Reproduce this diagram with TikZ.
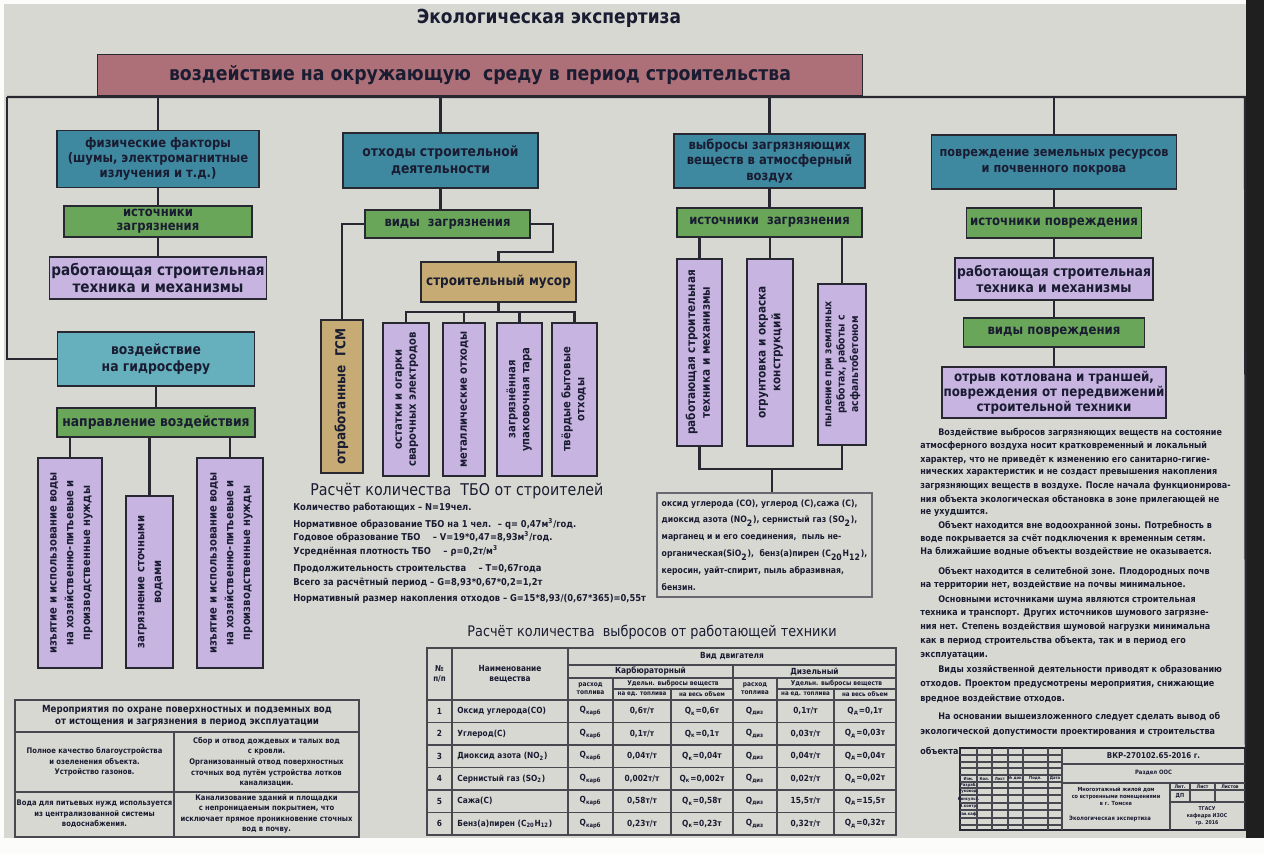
\documentclass[tikz,border=0pt]{standalone}
\usepackage{fontspec}
\setmainfont{DejaVu Sans}[FakeStretch=0.88]
\usepackage{xcolor}
\usepackage{tikz}
\definecolor{sheet}{RGB}{216,216,210}
\definecolor{tealbox}{RGB}{62,136,160}
\definecolor{hydrobox}{RGB}{102,176,190}
\definecolor{greenbox}{RGB}{106,166,90}
\definecolor{lilac}{RGB}{200,180,224}
\definecolor{tanbox}{RGB}{198,172,116}
\definecolor{rosebox}{RGB}{174,112,120}
\definecolor{ink}{RGB}{26,28,50}
\definecolor{wire}{RGB}{40,40,50}
\newcommand{\fsz}[2]{\fontsize{#1}{#2}\selectfont}
\newcommand{\vtext}[1]{\rotatebox{90}{\begin{tabular}{@{}c@{}}#1\end{tabular}}}

\begin{document}
\begin{tikzpicture}[x=0.02cm, y=-0.02cm,
    sz/.style 2 args = {minimum width=#1*0.02cm, minimum height=#2*0.02cm},
    fs/.style 2 args = {font=\bfseries\fsz{#1}{#2}},
    bx/.style = {draw=wire, line width=1pt, text=ink, align=center, inner sep=1pt},
    tealbx/.style = {bx, fill=tealbox},
    grnbx/.style = {bx, fill=greenbox},
    lilbx/.style = {bx, fill=lilac},
    tanbx/.style = {bx, fill=tanbox},
    link/.style = {draw=wire, line width=1.3pt},
    tabline/.style = {draw=wire!85, line width=0.6pt},
    txt/.style = {text=ink, inner sep=0}]

  \useasboundingbox (0,0) rectangle (1264,854);
  \fill[white!92!sheet] (0,0) rectangle (1264,854);
  \fill[sheet] (4,4) rectangle (1246,838);
  \fill[black!88] (1246,0) rectangle (1264,838);

  \node[txt, fs={11}{12}] (title) at (549,18) {Экологическая экспертиза};
  \node[bx, fill=rosebox, sz={765}{41}, fs={11.2}{12}] (top) at (480,75) {воздействие на окружающую \ среду в период строительства};

  \node[tealbx, sz={202}{57}, fs={7.5}{8.6}] (phys) at (158,159) {физические факторы\\(шумы, электромагнитные\\излучения и т.д.)};
  \node[grnbx, sz={188}{31}, fs={7.5}{8}] (src1) at (158,221.5) {источники\\загрязнения};
  \node[lilbx, sz={212}{42}, fs={8.8}{9.5}] (tech1) at (158,278) {работающая строительная\\техника и механизмы};
  \node[bx, fill=hydrobox, sz={197}{54}, fs={8}{9.5}] (hydro) at (156,359) {воздействие\\на гидросферу};
  \node[grnbx, sz={198}{29}, fs={8}{9}] (dir) at (156,422.5) {направление воздействия};
  \node[lilbx, sz={64}{210}, fs={6.5}{9.5}] (wA) at (70,563) {\vtext{изъятие и использование воды\\на хозяйственно-питьевые и\\производственные нужды}};
  \node[lilbx, sz={47}{172}, fs={6.5}{9.5}] (wB) at (149.5,582) {\vtext{загрязнение сточными\\водами}};
  \node[lilbx, sz={66}{210}, fs={6.5}{9.5}] (wC) at (230,563) {\vtext{изъятие и использование воды\\на хозяйственно-питьевые и\\производственные нужды}};

  \node[tealbx, sz={195}{55}, fs={8}{10}] (waste) at (440.5,160.5) {отходы строительной\\деятельности};
  \node[grnbx, sz={165}{28}, fs={7.5}{8}] (vidy) at (447.5,224) {виды \ загрязнения};
  \node[tanbx, sz={155}{40}, fs={7.8}{8}] (musor) at (498.5,282) {строительный мусор};
  \node[tanbx, sz={42}{153}, fs={7.8}{8}] (gsm) at (342,396.5) {\vtext{отработанные \ ГСМ}};
  \node[lilbx, sz={46}{153}, fs={6.5}{8}] (w1) at (406,399.5) {\vtext{остатки и огарки\\сварочных электродов}};
  \node[lilbx, sz={42}{153}, fs={6.5}{8}] (w2) at (464,399.5) {\vtext{металлические отходы}};
  \node[lilbx, sz={45}{153}, fs={6.5}{8}] (w3) at (519.5,399.5) {\vtext{загрязнённая\\упаковочная тара}};
  \node[lilbx, sz={45}{153}, fs={6.5}{8}] (w4) at (574.5,399.5) {\vtext{твёрдые бытовые\\отходы}};

  \node[tealbx, sz={191}{54}, fs={7.5}{8.8}] (air) at (769.5,161) {выбросы загрязняющих\\веществ в атмосферный\\воздух};
  \node[grnbx, sz={185}{29}, fs={7.5}{8}] (src3) at (769.5,222.5) {источники \ загрязнения};
  \node[lilbx, sz={45}{187}, fs={6.8}{8.5}] (e1) at (699.5,352.5) {\vtext{работающая строительная\\техника и механизмы}};
  \node[lilbx, sz={46}{187}, fs={6.8}{8.5}] (e2) at (770,352.5) {\vtext{огрунтовка и окраска\\конструкций}};
  \node[lilbx, sz={48}{161}, fs={6}{7.6}] (e3) at (842,364.5) {\vtext{пыление при земляных\\работах, работы с\\асфальтобетоном}};
  \node[bx, draw=wire!70, line width=1.2pt, fill=sheet, sz={215}{104}, align=left, fs={5}{9.6}] (gases) at (764.5,545) {оксид углерода (CO), углерод (C),сажа (C),\\диоксид азота (NO\textsubscript{2}), сернистый газ (SO\textsubscript{2}),\\марганец и и его соединения, \ пыль не-\\органическая(SiO\textsubscript{2}), \ бенз(а)пирен (C\textsubscript{20}H\textsubscript{12}),\\керосин, уайт-спирит, пыль абразивная,\\бензин.};

  \node[tealbx, sz={245}{54}, fs={7.3}{9}] (land) at (1054,162) {повреждение земельных ресурсов\\и почвенного покрова};
  \node[grnbx, sz={175}{30}, fs={7.6}{8}] (src4) at (1054,223) {источники повреждения};
  \node[lilbx, sz={197}{42}, fs={8}{9.2}] (tech4) at (1054,279) {работающая строительная\\техника и механизмы};
  \node[grnbx, sz={181}{29}, fs={7.6}{8}] (vidy4) at (1054,332.5) {виды повреждения};
  \node[lilbx, sz={217}{51}, fs={7.7}{8.6}] (dmg) at (1054,392.5) {отрыв котлована и траншей,\\повреждения от передвижений\\строительной техники};

  \node[draw=wire, line width=1pt, sz={285}{82}, inner sep=0] (stamp) at (1102.5,789) {};

  \coordinate (busL) at (7,97);
  \coordinate (busR) at (1245,97);
  \draw[link] (busL) -- (busR) -- (stamp.north east);
  \draw[link] (busL) |- (hydro.west);

  \draw[link] (phys.north |- busL) -- (phys.north);
  \draw[link] (phys.south) -- (src1.north);
  \draw[link] (src1.south) -- (tech1.north);
  \draw[link] (hydro.south) -- (dir.north);
  \draw[link] (dir.south -| wA.north) -- (wA.north);
  \draw[link] (dir.south -| wB.north) -- (wB.north);
  \draw[link] (dir.south -| wC.north) -- (wC.north);

  \draw[link] (waste.north |- busL) -- (waste.north);
  \draw[link] (waste.south) -- (waste.south |- vidy.north);
  \draw[link] (vidy.west) -| (gsm.north);
  \coordinate (jog) at (553,252);
  \draw[link] (vidy.east) -| (jog) -| (musor.north);
  \coordinate (mb) at (498.5,312);
  \draw[link] (musor.south) -- (mb);
  \draw[link] (w1.north) |- (mb) -| (w4.north);
  \draw[link] (w2.north) -- (w2.north |- mb);
  \draw[link] (w3.north) -- (w3.north |- mb);

  \draw[link] (air.north |- busL) -- (air.north);
  \draw[link] (air.south) -- (src3.north);
  \draw[link] (src3.south -| e1.north) -- (e1.north);
  \draw[link] (src3.south -| e2.north) -- (e2.north);
  \draw[link] (src3.south -| e3.north) -- (e3.north);
  \coordinate (jn) at (772,469);
  \draw[link] (e1.south) |- (jn) -| (e3.south);
  \draw[link] (jn) -- (jn |- gases.north);

  \draw[link] (land.north |- busL) -- (land.north);
  \draw[link] (land.south) -- (src4.north);
  \draw[link] (src4.south) -- (tech4.north);
  \draw[link] (tech4.south) -- (vidy4.north);
  \draw[link] (vidy4.south) -- (dmg.north);

  \node[txt, anchor=west, font=\fsz{9.2}{10}] (tbo) at (310,491) {Расчёт количества \ ТБО от строителей};
  \foreach \y/\tx [count=\i] in {508/{Количество работающих – N=19чел.},
      524/{Нормативное образование ТБО на 1 чел. \ – q= 0,47м\textsuperscript{3}/год.},
      537/{Годовое образование ТБО \quad – V=19*0,47=8,93м\textsuperscript{3}/год.},
      551/{Усреднённая плотность ТБО \quad – ρ=0,2т/м\textsuperscript{3}},
      569/{Продолжительность строительства \quad – T=0,67года},
      583/{Всего за расчётный период – G=8,93*0,67*0,2=1,2т},
      599/{Нормативный размер накопления отходов – G=15*8,93/(0,67*365)=0,55т}}
    \node[txt, anchor=west, fs={5.4}{6}] (calc\i) at (293,\y) {\tx};

  \foreach \x/\y/\tx [count=\i] in {938/433/{Воздействие выбросов загрязняющих веществ на состояние},
      920/446/{атмосферного воздуха носит кратковременный и локальный},
      920/460/{характер, что не приведёт к изменению его санитарно-гигие-},
      920/473/{нических характеристик и не создаст превышения накопления},
      920/486/{загрязняющих веществ в воздухе. После начала функционирова-},
      920/500/{ния объекта экологическая обстановка в зоне прилегающей не},
      920/513/{не ухудшится.},
      938/526/{Объект находится вне водоохранной зоны. Потребность в},
      920/539/{воде покрывается за счёт подключения к временным сетям.},
      920/552/{На ближайшие водные объекты воздействие не оказывается.},
      938/572/{Объект находится в селитебной зоне. Плодородных почв},
      920/585/{на территории нет, воздействие на почвы минимальное.},
      938/600/{Основными источниками шума являются строительная},
      920/613/{техника и транспорт. Других источников шумового загрязне-},
      920/627/{ния нет. Степень воздействия шумовой нагрузки минимальна},
      920/641/{как в период строительства объекта, так и в период его},
      920/656/{эксплуатации.},
      938/670/{Виды хозяйственной деятельности приводят к образованию},
      920/684/{отходов. Проектом предусмотрены мероприятия, снижающие},
      920/699/{вредное воздействие отходов.},
      938/717/{На основании вышеизложенного следует сделать вывод об},
      920/732/{экологической допустимости проектирования и строительства},
      920/751/{объекта.}}
    \node[txt, anchor=west, fs={5.2}{6}] (note\i) at (\x,\y) {\tx};

  \node[txt, font=\fsz{8.3}{9}] (emh) at (652,632) {Расчёт количества \ выбросов от работающей техники};
  \draw[tabline, line width=1pt] (427,648) rectangle (896,835);
  \draw[tabline] (452,648) -- (452,835) (568,648) -- (568,835)
    (568,665) -- (896,665) (568,678) -- (896,678) (733,665) -- (733,835)
    (613,678) -- (613,835) (777,678) -- (777,835)
    (613,689) -- (733,689) (777,689) -- (896,689)
    (671,689) -- (671,835) (834,689) -- (834,835);
  \draw[tabline, line width=1pt] (427,700) -- (896,700);
  \draw[tabline] foreach \y in {722.5,745,767.5,790,812.5} {(427,\y) -- (896,\y)};
  \node[txt, fs={4.6}{5.4}, align=center] (hn) at (439.5,674) {№\\п/п};
  \node[txt, fs={4.8}{5.6}, align=center] (hname) at (510,674) {Наименование\\вещества};
  \node[txt, fs={4.8}{5.4}] (heng) at (732,656.5) {Вид двигателя};
  \node[txt, fs={4.8}{5.4}] (hcarb) at (650.5,671.5) {Карбюраторный};
  \node[txt, fs={4.8}{5.4}] (hdiz) at (814.5,671.5) {Дизельный};
  \node[txt, fs={3.8}{4.4}, align=center] (hfc) at (590.5,689) {расход\\топлива};
  \node[txt, fs={3.8}{4.4}, align=center] (hfd) at (755,689) {расход\\топлива};
  \node[txt, fs={3.8}{4.4}] (hsc) at (673,683.5) {Удельн. выбросы веществ};
  \node[txt, fs={3.8}{4.4}] (hsd) at (836.5,683.5) {Удельн. выбросы веществ};
  \node[txt, fs={3.6}{4.4}] (hc1) at (642,694.5) {на ед. топлива};
  \node[txt, fs={3.6}{4.4}] (hc2) at (702,694.5) {на весь объем};
  \node[txt, fs={3.6}{4.4}] (hd1) at (805.5,694.5) {на ед. топлива};
  \node[txt, fs={3.6}{4.4}] (hd2) at (865,694.5) {на весь объем};
  \foreach \nm/\cv/\dv [count=\i] in {{Оксид углерода(CO)}/{0,6}/{0,1},
      {Углерод(C)}/{0,1}/{0,03},
      {Диоксид азота (NO\textsubscript{2})}/{0,04}/{0,04},
      {Сернистый газ (SO\textsubscript{2})}/{0,002}/{0,02},
      {Сажа(C)}/{0,58}/{15,5},
      {Бенз(а)пирен (C\textsubscript{20}H\textsubscript{12})}/{0,23}/{0,32}} {
    \pgfmathsetmacro{\yy}{711.25+22.5*(\i-1)}
    \node[txt, fs={4.8}{5.4}] (rn\i) at (439.5,\yy) {\i};
    \node[txt, fs={4.8}{5.4}, anchor=west] (rs\i) at (457,\yy) {\nm};
    \node[txt, fs={4.8}{5.4}] (rqc\i) at (590.5,\yy) {Q\textsubscript{карб}};
    \node[txt, fs={4.8}{5.4}] (ruc\i) at (642,\yy) {\cv т/т};
    \node[txt, fs={4.8}{5.4}] (rtc\i) at (702,\yy) {Q\textsubscript{к}=\cv т};
    \node[txt, fs={4.8}{5.4}] (rqd\i) at (755,\yy) {Q\textsubscript{диз}};
    \node[txt, fs={4.8}{5.4}] (rud\i) at (805.5,\yy) {\dv т/т};
    \node[txt, fs={4.8}{5.4}] (rtd\i) at (865,\yy) {Q\textsubscript{д}=\dv т};
  }

  \draw[tabline, line width=1pt] (15,700) rectangle (359,837);
  \draw[tabline, line width=0.8pt] (15,732) -- (359,732) (15,792) -- (359,792) (174,732) -- (174,837);
  \node[txt, fs={5.6}{6.8}, align=center] (ms0) at (187,716) {Мероприятия по охране поверхностных и подземных вод\\от истощения и загрязнения в период эксплуатации};
  \node[txt, fs={4.4}{6}, align=center] (ms1) at (94.5,762) {Полное качество благоустройства\\и озеленения объекта.\\Устройство газонов.};
  \node[txt, fs={4.4}{6}, align=center] (ms2) at (266.5,762) {Сбор и отвод дождевых и талых вод\\с кровли.\\Организованный отвод поверхностных\\сточных вод путём устройства лотков\\канализации.};
  \node[txt, fs={4.4}{6}, align=center] (ms3) at (94.5,814) {Вода для питьевых нужд используется\\из централизованной системы\\водоснабжения.};
  \node[txt, fs={4.4}{6}, align=center] (ms4) at (266.5,814) {Канализование зданий и площадки\\с непроницаемым покрытием, что\\исключает прямое проникновение сточных\\вод в почву.};

  \draw[tabline] foreach \x in {977,992,1008,1023,1048,1062} {(\x,748) -- (\x,830)};
  \draw[tabline] foreach \y in {755,762,768,775,782,788,795,803,810,818,825} {(960,\y) -- (1062,\y)};
  \draw[tabline] (1062,764) -- (1245,764) (1062,783) -- (1245,783) (1170,783) -- (1170,830)
    (1170,790) -- (1245,790) (1170,802) -- (1245,802) (1190,783) -- (1190,802) (1215,783) -- (1215,802);
  \node[txt, fs={4.6}{5}] (code) at (1153.5,756) {ВКР-270102.65-2016 г.};
  \node[txt, fs={3.4}{4}] (sect) at (1153.5,773) {Раздел ООС};
  \node[txt, fs={3.2}{4}, align=center] (obj) at (1116,796) {Многоэтажный жилой дом\\со встроенными помещениями\\в г. Томске};
  \node[txt, fs={3.4}{4}] (sheetname) at (1110,819) {Экологическая экспертиза};
  \node[txt, fs={2.8}{3.2}] (lit) at (1180,786.5) {Лит.};
  \node[txt, fs={2.8}{3.2}] (lst) at (1202.5,786.5) {Лист};
  \node[txt, fs={2.8}{3.2}] (lsts) at (1230,786.5) {Листов};
  \node[txt, fs={3.2}{4}] (stg) at (1180,796) {ДП};
  \node[txt, fs={3}{3.8}, align=center] (org) at (1207,816) {ТГАСУ\\кафедра ИЗОС\\гр. 2016};
  \foreach \x/\tx [count=\i] in {968.5/Изм., 984.5/Кол., 1000/Лист, 1015.5/№ док., 1035.5/Подп., 1055/Дата}
    \node[txt, fs={2.4}{3}] (sh\i) at (\x,778.5) {\tx};
  \foreach \y/\tx [count=\i] in {785/Разраб., 791.5/Руковод., 799/Консульт., 806.5/Н.контр., 814/Зав.каф.}
    \node[txt, fs={2.4}{3}] (sr\i) at (968.5,\y) {\tx};
\end{tikzpicture}
\end{document}
